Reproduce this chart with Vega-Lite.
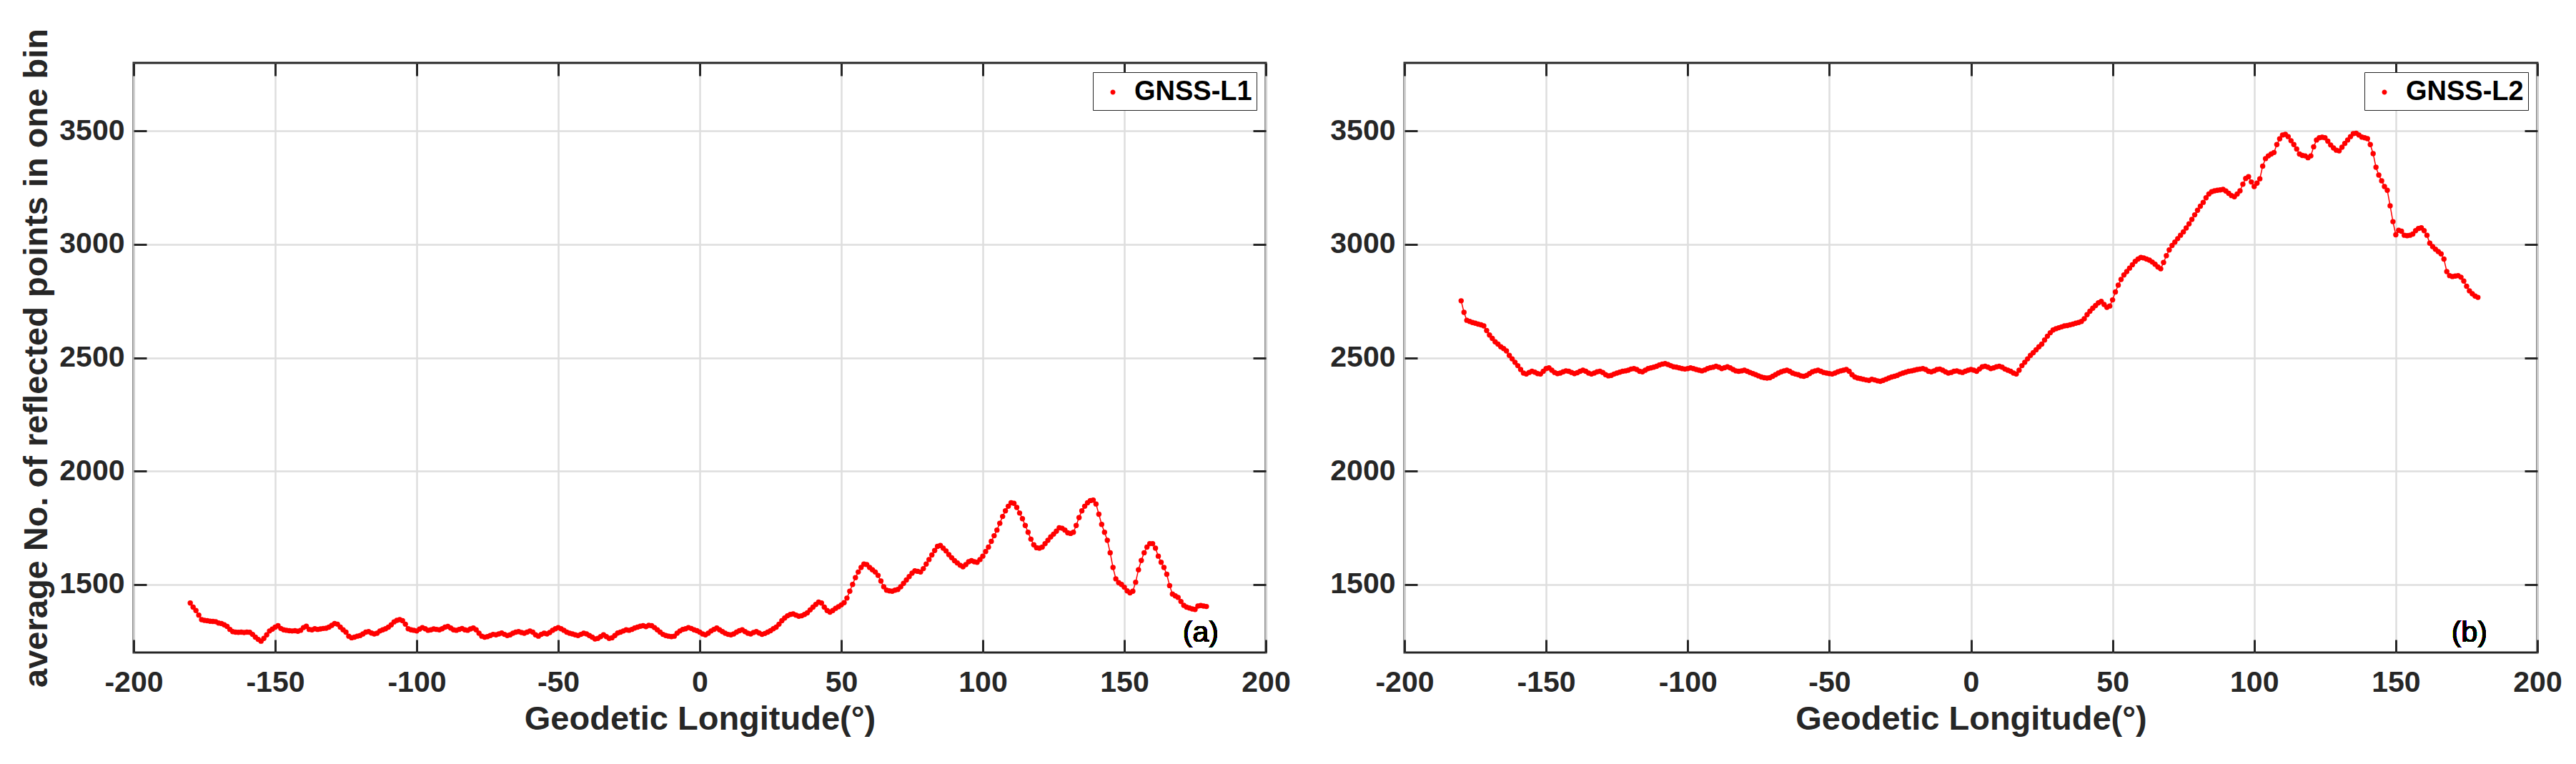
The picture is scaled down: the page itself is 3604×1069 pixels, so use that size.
{
"$schema": "https://vega.github.io/schema/vega-lite/v6.json",
"background": "white",
"padding": {"left": 26, "top": 38, "right": 0, "bottom": 0},
"bounds": "flush",
"spacing": 194,
"datasets": {
"l1": [
{"lon":-180,"n":1418},{"lon":-179,"n":1400},{"lon":-178,"n":1385},{"lon":-177,"n":1365},{"lon":-176,"n":1345},{"lon":-175,"n":1342},{"lon":-174,"n":1340},{"lon":-173,"n":1338},{"lon":-172,"n":1337},{"lon":-171,"n":1336},
{"lon":-170,"n":1330},{"lon":-169,"n":1328},{"lon":-168,"n":1322},{"lon":-167,"n":1315},{"lon":-166,"n":1302},{"lon":-165,"n":1292},{"lon":-164,"n":1290},{"lon":-163,"n":1289},{"lon":-162,"n":1290},{"lon":-161,"n":1288},
{"lon":-160,"n":1290},{"lon":-159,"n":1289},{"lon":-158,"n":1280},{"lon":-157,"n":1268},{"lon":-156,"n":1258},{"lon":-155,"n":1250},{"lon":-154,"n":1262},{"lon":-153,"n":1278},{"lon":-152,"n":1295},{"lon":-151,"n":1303},
{"lon":-150,"n":1312},{"lon":-149,"n":1318},{"lon":-148,"n":1306},{"lon":-147,"n":1300},{"lon":-146,"n":1298},{"lon":-145,"n":1296},{"lon":-144,"n":1295},{"lon":-143,"n":1296},{"lon":-142,"n":1294},{"lon":-141,"n":1298},
{"lon":-140,"n":1310},{"lon":-139,"n":1316},{"lon":-138,"n":1302},{"lon":-137,"n":1300},{"lon":-136,"n":1305},{"lon":-135,"n":1302},{"lon":-134,"n":1304},{"lon":-133,"n":1306},{"lon":-132,"n":1307},{"lon":-131,"n":1312},
{"lon":-130,"n":1320},{"lon":-129,"n":1328},{"lon":-128,"n":1325},{"lon":-127,"n":1312},{"lon":-126,"n":1300},{"lon":-125,"n":1290},{"lon":-124,"n":1272},{"lon":-123,"n":1265},{"lon":-122,"n":1268},{"lon":-121,"n":1272},
{"lon":-120,"n":1275},{"lon":-119,"n":1282},{"lon":-118,"n":1290},{"lon":-117,"n":1292},{"lon":-116,"n":1286},{"lon":-115,"n":1282},{"lon":-114,"n":1285},{"lon":-113,"n":1295},{"lon":-112,"n":1300},{"lon":-111,"n":1305},
{"lon":-110,"n":1312},{"lon":-109,"n":1322},{"lon":-108,"n":1335},{"lon":-107,"n":1342},{"lon":-106,"n":1345},{"lon":-105,"n":1340},{"lon":-104,"n":1325},{"lon":-103,"n":1305},{"lon":-102,"n":1300},{"lon":-101,"n":1298},
{"lon":-100,"n":1295},{"lon":-99,"n":1303},{"lon":-98,"n":1310},{"lon":-97,"n":1305},{"lon":-96,"n":1298},{"lon":-95,"n":1300},{"lon":-94,"n":1304},{"lon":-93,"n":1302},{"lon":-92,"n":1300},{"lon":-91,"n":1305},
{"lon":-90,"n":1312},{"lon":-89,"n":1315},{"lon":-88,"n":1308},{"lon":-87,"n":1300},{"lon":-86,"n":1298},{"lon":-85,"n":1302},{"lon":-84,"n":1306},{"lon":-83,"n":1300},{"lon":-82,"n":1298},{"lon":-81,"n":1304},
{"lon":-80,"n":1308},{"lon":-79,"n":1300},{"lon":-78,"n":1285},{"lon":-77,"n":1272},{"lon":-76,"n":1268},{"lon":-75,"n":1270},{"lon":-74,"n":1275},{"lon":-73,"n":1280},{"lon":-72,"n":1278},{"lon":-71,"n":1282},
{"lon":-70,"n":1286},{"lon":-69,"n":1280},{"lon":-68,"n":1275},{"lon":-67,"n":1278},{"lon":-66,"n":1285},{"lon":-65,"n":1290},{"lon":-64,"n":1292},{"lon":-63,"n":1288},{"lon":-62,"n":1285},{"lon":-61,"n":1290},
{"lon":-60,"n":1295},{"lon":-59,"n":1290},{"lon":-58,"n":1278},{"lon":-57,"n":1272},{"lon":-56,"n":1280},{"lon":-55,"n":1285},{"lon":-54,"n":1282},{"lon":-53,"n":1288},{"lon":-52,"n":1298},{"lon":-51,"n":1305},
{"lon":-50,"n":1310},{"lon":-49,"n":1305},{"lon":-48,"n":1298},{"lon":-47,"n":1290},{"lon":-46,"n":1285},{"lon":-45,"n":1282},{"lon":-44,"n":1278},{"lon":-43,"n":1275},{"lon":-42,"n":1280},{"lon":-41,"n":1285},
{"lon":-40,"n":1282},{"lon":-39,"n":1275},{"lon":-38,"n":1268},{"lon":-37,"n":1260},{"lon":-36,"n":1262},{"lon":-35,"n":1270},{"lon":-34,"n":1278},{"lon":-33,"n":1270},{"lon":-32,"n":1262},{"lon":-31,"n":1265},
{"lon":-30,"n":1275},{"lon":-29,"n":1286},{"lon":-28,"n":1290},{"lon":-27,"n":1295},{"lon":-26,"n":1300},{"lon":-25,"n":1298},{"lon":-24,"n":1302},{"lon":-23,"n":1308},{"lon":-22,"n":1312},{"lon":-21,"n":1316},
{"lon":-20,"n":1318},{"lon":-19,"n":1314},{"lon":-18,"n":1320},{"lon":-17,"n":1318},{"lon":-16,"n":1310},{"lon":-15,"n":1300},{"lon":-14,"n":1290},{"lon":-13,"n":1280},{"lon":-12,"n":1275},{"lon":-11,"n":1272},
{"lon":-10,"n":1270},{"lon":-9,"n":1272},{"lon":-8,"n":1285},{"lon":-7,"n":1295},{"lon":-6,"n":1302},{"lon":-5,"n":1305},{"lon":-4,"n":1310},{"lon":-3,"n":1306},{"lon":-2,"n":1300},{"lon":-1,"n":1296},
{"lon":0,"n":1290},{"lon":1,"n":1282},{"lon":2,"n":1278},{"lon":3,"n":1285},{"lon":4,"n":1295},{"lon":5,"n":1302},{"lon":6,"n":1308},{"lon":7,"n":1300},{"lon":8,"n":1292},{"lon":9,"n":1285},
{"lon":10,"n":1280},{"lon":11,"n":1278},{"lon":12,"n":1282},{"lon":13,"n":1290},{"lon":14,"n":1296},{"lon":15,"n":1300},{"lon":16,"n":1292},{"lon":17,"n":1285},{"lon":18,"n":1282},{"lon":19,"n":1288},
{"lon":20,"n":1292},{"lon":21,"n":1286},{"lon":22,"n":1280},{"lon":23,"n":1284},{"lon":24,"n":1290},{"lon":25,"n":1296},{"lon":26,"n":1305},{"lon":27,"n":1312},{"lon":28,"n":1325},{"lon":29,"n":1340},
{"lon":30,"n":1352},{"lon":31,"n":1362},{"lon":32,"n":1368},{"lon":33,"n":1370},{"lon":34,"n":1365},{"lon":35,"n":1360},{"lon":36,"n":1362},{"lon":37,"n":1368},{"lon":38,"n":1375},{"lon":39,"n":1388},
{"lon":40,"n":1400},{"lon":41,"n":1412},{"lon":42,"n":1422},{"lon":43,"n":1418},{"lon":44,"n":1400},{"lon":45,"n":1385},{"lon":46,"n":1378},{"lon":47,"n":1385},{"lon":48,"n":1395},{"lon":49,"n":1402},
{"lon":50,"n":1410},{"lon":51,"n":1420},{"lon":52,"n":1440},{"lon":53,"n":1470},{"lon":54,"n":1500},{"lon":55,"n":1530},{"lon":56,"n":1555},{"lon":57,"n":1575},{"lon":58,"n":1590},{"lon":59,"n":1588},
{"lon":60,"n":1575},{"lon":61,"n":1565},{"lon":62,"n":1555},{"lon":63,"n":1540},{"lon":64,"n":1515},{"lon":65,"n":1490},{"lon":66,"n":1475},{"lon":67,"n":1472},{"lon":68,"n":1470},{"lon":69,"n":1475},
{"lon":70,"n":1478},{"lon":71,"n":1490},{"lon":72,"n":1505},{"lon":73,"n":1520},{"lon":74,"n":1535},{"lon":75,"n":1550},{"lon":76,"n":1560},{"lon":77,"n":1558},{"lon":78,"n":1555},{"lon":79,"n":1570},
{"lon":80,"n":1590},{"lon":81,"n":1610},{"lon":82,"n":1630},{"lon":83,"n":1650},{"lon":84,"n":1668},{"lon":85,"n":1672},{"lon":86,"n":1660},{"lon":87,"n":1648},{"lon":88,"n":1632},{"lon":89,"n":1618},
{"lon":90,"n":1605},{"lon":91,"n":1595},{"lon":92,"n":1585},{"lon":93,"n":1578},{"lon":94,"n":1588},{"lon":95,"n":1600},{"lon":96,"n":1605},{"lon":97,"n":1600},{"lon":98,"n":1598},{"lon":99,"n":1610},
{"lon":100,"n":1625},{"lon":101,"n":1645},{"lon":102,"n":1665},{"lon":103,"n":1690},{"lon":104,"n":1715},{"lon":105,"n":1740},{"lon":106,"n":1770},{"lon":107,"n":1800},{"lon":108,"n":1825},{"lon":109,"n":1845},
{"lon":110,"n":1860},{"lon":111,"n":1858},{"lon":112,"n":1840},{"lon":113,"n":1815},{"lon":114,"n":1790},{"lon":115,"n":1760},{"lon":116,"n":1730},{"lon":117,"n":1700},{"lon":118,"n":1675},{"lon":119,"n":1662},
{"lon":120,"n":1660},{"lon":121,"n":1665},{"lon":122,"n":1680},{"lon":123,"n":1695},{"lon":124,"n":1710},{"lon":125,"n":1722},{"lon":126,"n":1735},{"lon":127,"n":1750},{"lon":128,"n":1748},{"lon":129,"n":1740},
{"lon":130,"n":1728},{"lon":131,"n":1725},{"lon":132,"n":1730},{"lon":133,"n":1760},{"lon":134,"n":1795},{"lon":135,"n":1825},{"lon":136,"n":1845},{"lon":137,"n":1860},{"lon":138,"n":1870},{"lon":139,"n":1872},
{"lon":140,"n":1855},{"lon":141,"n":1810},{"lon":142,"n":1765},{"lon":143,"n":1730},{"lon":144,"n":1695},{"lon":145,"n":1640},{"lon":146,"n":1575},{"lon":147,"n":1525},{"lon":148,"n":1508},{"lon":149,"n":1500},
{"lon":150,"n":1488},{"lon":151,"n":1472},{"lon":152,"n":1463},{"lon":153,"n":1470},{"lon":154,"n":1510},{"lon":155,"n":1565},{"lon":156,"n":1606},{"lon":157,"n":1640},{"lon":158,"n":1665},{"lon":159,"n":1680},
{"lon":160,"n":1680},{"lon":161,"n":1660},{"lon":162,"n":1625},{"lon":163,"n":1598},{"lon":164,"n":1575},{"lon":165,"n":1545},{"lon":166,"n":1495},{"lon":167,"n":1458},{"lon":168,"n":1450},{"lon":169,"n":1443},
{"lon":170,"n":1425},{"lon":171,"n":1408},{"lon":172,"n":1400},{"lon":173,"n":1396},{"lon":174,"n":1392},{"lon":175,"n":1390},{"lon":176,"n":1405},{"lon":177,"n":1407},{"lon":178,"n":1405},{"lon":179,"n":1403}
],
"l2": [
{"lon":-180,"n":2751},{"lon":-179,"n":2700},{"lon":-178,"n":2665},{"lon":-177,"n":2660},{"lon":-176,"n":2655},{"lon":-175,"n":2652},{"lon":-174,"n":2648},{"lon":-173,"n":2645},{"lon":-172,"n":2640},{"lon":-171,"n":2620},
{"lon":-170,"n":2600},{"lon":-169,"n":2585},{"lon":-168,"n":2570},{"lon":-167,"n":2560},{"lon":-166,"n":2548},{"lon":-165,"n":2540},{"lon":-164,"n":2530},{"lon":-163,"n":2510},{"lon":-162,"n":2495},{"lon":-161,"n":2480},
{"lon":-160,"n":2465},{"lon":-159,"n":2448},{"lon":-158,"n":2432},{"lon":-157,"n":2428},{"lon":-156,"n":2435},{"lon":-155,"n":2440},{"lon":-154,"n":2436},{"lon":-153,"n":2430},{"lon":-152,"n":2428},{"lon":-151,"n":2440},
{"lon":-150,"n":2452},{"lon":-149,"n":2455},{"lon":-148,"n":2445},{"lon":-147,"n":2435},{"lon":-146,"n":2430},{"lon":-145,"n":2432},{"lon":-144,"n":2438},{"lon":-143,"n":2442},{"lon":-142,"n":2440},{"lon":-141,"n":2435},
{"lon":-140,"n":2430},{"lon":-139,"n":2434},{"lon":-138,"n":2440},{"lon":-137,"n":2445},{"lon":-136,"n":2440},{"lon":-135,"n":2432},{"lon":-134,"n":2428},{"lon":-133,"n":2432},{"lon":-132,"n":2438},{"lon":-131,"n":2440},
{"lon":-130,"n":2435},{"lon":-129,"n":2425},{"lon":-128,"n":2420},{"lon":-127,"n":2422},{"lon":-126,"n":2428},{"lon":-125,"n":2432},{"lon":-124,"n":2436},{"lon":-123,"n":2440},{"lon":-122,"n":2442},{"lon":-121,"n":2445},
{"lon":-120,"n":2450},{"lon":-119,"n":2452},{"lon":-118,"n":2448},{"lon":-117,"n":2440},{"lon":-116,"n":2438},{"lon":-115,"n":2445},{"lon":-114,"n":2452},{"lon":-113,"n":2455},{"lon":-112,"n":2458},{"lon":-111,"n":2462},
{"lon":-110,"n":2468},{"lon":-109,"n":2472},{"lon":-108,"n":2474},{"lon":-107,"n":2470},{"lon":-106,"n":2465},{"lon":-105,"n":2460},{"lon":-104,"n":2458},{"lon":-103,"n":2455},{"lon":-102,"n":2452},{"lon":-101,"n":2450},
{"lon":-100,"n":2452},{"lon":-99,"n":2455},{"lon":-98,"n":2452},{"lon":-97,"n":2448},{"lon":-96,"n":2445},{"lon":-95,"n":2442},{"lon":-94,"n":2446},{"lon":-93,"n":2452},{"lon":-92,"n":2456},{"lon":-91,"n":2458},
{"lon":-90,"n":2462},{"lon":-89,"n":2458},{"lon":-88,"n":2452},{"lon":-87,"n":2456},{"lon":-86,"n":2460},{"lon":-85,"n":2455},{"lon":-84,"n":2448},{"lon":-83,"n":2442},{"lon":-82,"n":2440},{"lon":-81,"n":2442},
{"lon":-80,"n":2445},{"lon":-79,"n":2440},{"lon":-78,"n":2435},{"lon":-77,"n":2430},{"lon":-76,"n":2425},{"lon":-75,"n":2420},{"lon":-74,"n":2415},{"lon":-73,"n":2412},{"lon":-72,"n":2410},{"lon":-71,"n":2412},
{"lon":-70,"n":2418},{"lon":-69,"n":2425},{"lon":-68,"n":2432},{"lon":-67,"n":2438},{"lon":-66,"n":2442},{"lon":-65,"n":2445},{"lon":-64,"n":2440},{"lon":-63,"n":2432},{"lon":-62,"n":2428},{"lon":-61,"n":2425},
{"lon":-60,"n":2420},{"lon":-59,"n":2418},{"lon":-58,"n":2422},{"lon":-57,"n":2430},{"lon":-56,"n":2438},{"lon":-55,"n":2442},{"lon":-54,"n":2445},{"lon":-53,"n":2440},{"lon":-52,"n":2435},{"lon":-51,"n":2432},
{"lon":-50,"n":2430},{"lon":-49,"n":2428},{"lon":-48,"n":2432},{"lon":-47,"n":2438},{"lon":-46,"n":2442},{"lon":-45,"n":2445},{"lon":-44,"n":2448},{"lon":-43,"n":2440},{"lon":-42,"n":2425},{"lon":-41,"n":2415},
{"lon":-40,"n":2410},{"lon":-39,"n":2408},{"lon":-38,"n":2405},{"lon":-37,"n":2402},{"lon":-36,"n":2400},{"lon":-35,"n":2405},{"lon":-34,"n":2402},{"lon":-33,"n":2398},{"lon":-32,"n":2396},{"lon":-31,"n":2400},
{"lon":-30,"n":2405},{"lon":-29,"n":2410},{"lon":-28,"n":2415},{"lon":-27,"n":2418},{"lon":-26,"n":2422},{"lon":-25,"n":2428},{"lon":-24,"n":2432},{"lon":-23,"n":2436},{"lon":-22,"n":2440},{"lon":-21,"n":2442},
{"lon":-20,"n":2445},{"lon":-19,"n":2448},{"lon":-18,"n":2450},{"lon":-17,"n":2452},{"lon":-16,"n":2448},{"lon":-15,"n":2440},{"lon":-14,"n":2438},{"lon":-13,"n":2442},{"lon":-12,"n":2448},{"lon":-11,"n":2450},
{"lon":-10,"n":2445},{"lon":-9,"n":2438},{"lon":-8,"n":2432},{"lon":-7,"n":2435},{"lon":-6,"n":2440},{"lon":-5,"n":2442},{"lon":-4,"n":2438},{"lon":-3,"n":2435},{"lon":-2,"n":2440},{"lon":-1,"n":2445},
{"lon":0,"n":2448},{"lon":1,"n":2445},{"lon":2,"n":2440},{"lon":3,"n":2450},{"lon":4,"n":2460},{"lon":5,"n":2462},{"lon":6,"n":2458},{"lon":7,"n":2452},{"lon":8,"n":2455},{"lon":9,"n":2460},
{"lon":10,"n":2462},{"lon":11,"n":2458},{"lon":12,"n":2450},{"lon":13,"n":2445},{"lon":14,"n":2440},{"lon":15,"n":2432},{"lon":16,"n":2428},{"lon":17,"n":2445},{"lon":18,"n":2465},{"lon":19,"n":2480},
{"lon":20,"n":2495},{"lon":21,"n":2510},{"lon":22,"n":2522},{"lon":23,"n":2535},{"lon":24,"n":2548},{"lon":25,"n":2560},{"lon":26,"n":2578},{"lon":27,"n":2595},{"lon":28,"n":2610},{"lon":29,"n":2622},
{"lon":30,"n":2628},{"lon":31,"n":2632},{"lon":32,"n":2636},{"lon":33,"n":2640},{"lon":34,"n":2642},{"lon":35,"n":2645},{"lon":36,"n":2648},{"lon":37,"n":2652},{"lon":38,"n":2655},{"lon":39,"n":2660},
{"lon":40,"n":2672},{"lon":41,"n":2690},{"lon":42,"n":2705},{"lon":43,"n":2718},{"lon":44,"n":2730},{"lon":45,"n":2742},{"lon":46,"n":2748},{"lon":47,"n":2735},{"lon":48,"n":2722},{"lon":49,"n":2728},
{"lon":50,"n":2755},{"lon":51,"n":2790},{"lon":52,"n":2820},{"lon":53,"n":2845},{"lon":54,"n":2865},{"lon":55,"n":2880},{"lon":56,"n":2895},{"lon":57,"n":2910},{"lon":58,"n":2925},{"lon":59,"n":2935},
{"lon":60,"n":2942},{"lon":61,"n":2940},{"lon":62,"n":2935},{"lon":63,"n":2930},{"lon":64,"n":2922},{"lon":65,"n":2912},{"lon":66,"n":2900},{"lon":67,"n":2892},{"lon":68,"n":2920},{"lon":69,"n":2950},
{"lon":70,"n":2975},{"lon":71,"n":2995},{"lon":72,"n":3010},{"lon":73,"n":3025},{"lon":74,"n":3040},{"lon":75,"n":3055},{"lon":76,"n":3072},{"lon":77,"n":3090},{"lon":78,"n":3110},{"lon":79,"n":3130},
{"lon":80,"n":3150},{"lon":81,"n":3168},{"lon":82,"n":3185},{"lon":83,"n":3205},{"lon":84,"n":3222},{"lon":85,"n":3232},{"lon":86,"n":3236},{"lon":87,"n":3238},{"lon":88,"n":3240},{"lon":89,"n":3242},
{"lon":90,"n":3235},{"lon":91,"n":3225},{"lon":92,"n":3215},{"lon":93,"n":3210},{"lon":94,"n":3222},{"lon":95,"n":3236},{"lon":96,"n":3265},{"lon":97,"n":3290},{"lon":98,"n":3298},{"lon":99,"n":3275},
{"lon":100,"n":3255},{"lon":101,"n":3270},{"lon":102,"n":3289},{"lon":103,"n":3345},{"lon":104,"n":3378},{"lon":105,"n":3390},{"lon":106,"n":3398},{"lon":107,"n":3405},{"lon":108,"n":3440},{"lon":109,"n":3465},
{"lon":110,"n":3482},{"lon":111,"n":3485},{"lon":112,"n":3475},{"lon":113,"n":3457},{"lon":114,"n":3440},{"lon":115,"n":3420},{"lon":116,"n":3398},{"lon":117,"n":3392},{"lon":118,"n":3390},{"lon":119,"n":3382},
{"lon":120,"n":3390},{"lon":121,"n":3430},{"lon":122,"n":3460},{"lon":123,"n":3470},{"lon":124,"n":3472},{"lon":125,"n":3470},{"lon":126,"n":3455},{"lon":127,"n":3438},{"lon":128,"n":3425},{"lon":129,"n":3415},
{"lon":130,"n":3412},{"lon":131,"n":3428},{"lon":132,"n":3445},{"lon":133,"n":3460},{"lon":134,"n":3475},{"lon":135,"n":3488},{"lon":136,"n":3490},{"lon":137,"n":3482},{"lon":138,"n":3473},{"lon":139,"n":3470},
{"lon":140,"n":3466},{"lon":141,"n":3440},{"lon":142,"n":3400},{"lon":143,"n":3340},{"lon":144,"n":3305},{"lon":145,"n":3280},{"lon":146,"n":3255},{"lon":147,"n":3238},{"lon":148,"n":3170},{"lon":149,"n":3100},
{"lon":150,"n":3042},{"lon":151,"n":3062},{"lon":152,"n":3058},{"lon":153,"n":3040},{"lon":154,"n":3038},{"lon":155,"n":3040},{"lon":156,"n":3045},{"lon":157,"n":3060},{"lon":158,"n":3070},{"lon":159,"n":3073},
{"lon":160,"n":3060},{"lon":161,"n":3040},{"lon":162,"n":3005},{"lon":163,"n":2990},{"lon":164,"n":2978},{"lon":165,"n":2968},{"lon":166,"n":2958},{"lon":167,"n":2935},{"lon":168,"n":2880},{"lon":169,"n":2862},
{"lon":170,"n":2858},{"lon":171,"n":2860},{"lon":172,"n":2862},{"lon":173,"n":2855},{"lon":174,"n":2838},{"lon":175,"n":2815},{"lon":176,"n":2795},{"lon":177,"n":2782},{"lon":178,"n":2772},{"lon":179,"n":2766}
]
},
"hconcat": [
{
"width": 1584, "height": 825,
"data": {"name": "l1"},
"layer": [
{"mark": {"type": "line", "color": "#ff0000", "strokeWidth": 1.5},
 "encoding": {
  "x": {"field": "lon", "type": "quantitative", "scale": {"domain": [-200, 200], "nice": false, "zero": false},
        "axis": {"orient": "bottom", "values": [-200,-150,-100,-50,0,50,100,150,200], "labelExpr": "'' + datum.value", "title": "Geodetic Longitude(°)", "grid": true, "labelPadding": 40, "titlePadding": 8}},
  "y": {"field": "n", "type": "quantitative", "scale": {"domain": [1200, 3800], "nice": false, "zero": false},
        "axis": {"orient": "left", "values": [1500,2000,2500,3000,3500], "labelExpr": "'' + datum.value", "title": "average No. of reflected points in one bin", "grid": true, "labelPadding": 31, "titlePadding": 7}}
 }},
{"mark": {"type": "circle", "size": 55, "opacity": 1},
 "encoding": {
  "x": {"field": "lon", "type": "quantitative", "axis": null},
  "y": {"field": "n", "type": "quantitative", "axis": null},
  "color": {"datum": "GNSS-L1", "type": "nominal", "scale": {"range": ["#ff0000"]},
   "legend": {"orient": "top-right", "offset": 13, "title": null, "padding": 6, "strokeColor": "#262626", "fillColor": "white", "symbolType": "M-0.16,0A0.16,0.16,0,1,0,0.16,0A0.16,0.16,0,1,0,-0.16,0Z", "symbolSize": 1936, "symbolFillColor": "#ff0000", "symbolStrokeWidth": 0, "labelOffset": 8, "labelLimit": 600, "labelFontSize": 38, "labelFontWeight": "bold", "labelColor": "#000000", "encode": {"legend": {"update": {"strokeWidth": {"value": 3}}}}}}
 }},
{"mark": {"type": "point", "opacity": 0},
 "encoding": {
  "x": {"field": "lon", "type": "quantitative", "axis": {"orient": "top", "values": [-200,-150,-100,-50,0,50,100,150,200], "labels": false, "grid": false, "title": null}},
  "y": {"field": "n", "type": "quantitative", "axis": {"orient": "right", "values": [1500,2000,2500,3000,3500], "labels": false, "grid": false, "title": null}}
 }},
{"mark": {"type": "text", "fontSize": 41, "fontWeight": "normal", "color": "#000000", "align": "center", "baseline": "alphabetic"},
 "encoding": {
  "x": {"datum": 177, "type": "quantitative", "axis": null},
  "y": {"datum": 1247, "type": "quantitative", "axis": null},
  "text": {"value": "(a)"}
 }}
],
"resolve": {"axis": {"x": "independent", "y": "independent"}}
},
{
"width": 1585, "height": 825,
"data": {"name": "l2"},
"layer": [
{"mark": {"type": "line", "color": "#ff0000", "strokeWidth": 1.5},
 "encoding": {
  "x": {"field": "lon", "type": "quantitative", "scale": {"domain": [-200, 200], "nice": false, "zero": false},
        "axis": {"orient": "bottom", "values": [-200,-150,-100,-50,0,50,100,150,200], "labelExpr": "'' + datum.value", "title": "Geodetic Longitude(°)", "grid": true, "labelPadding": 40, "titlePadding": 8}},
  "y": {"field": "n", "type": "quantitative", "scale": {"domain": [1200, 3800], "nice": false, "zero": false},
        "axis": {"orient": "left", "values": [1500,2000,2500,3000,3500], "labelExpr": "'' + datum.value", "title": null, "grid": true, "labelPadding": 31}}
 }},
{"mark": {"type": "circle", "size": 55, "opacity": 1},
 "encoding": {
  "x": {"field": "lon", "type": "quantitative", "axis": null},
  "y": {"field": "n", "type": "quantitative", "axis": null},
  "color": {"datum": "GNSS-L2", "type": "nominal", "scale": {"range": ["#ff0000"]},
   "legend": {"orient": "top-right", "offset": 13, "title": null, "padding": 6, "strokeColor": "#262626", "fillColor": "white", "symbolType": "M-0.16,0A0.16,0.16,0,1,0,0.16,0A0.16,0.16,0,1,0,-0.16,0Z", "symbolSize": 1936, "symbolFillColor": "#ff0000", "symbolStrokeWidth": 0, "labelOffset": 8, "labelLimit": 600, "labelFontSize": 38, "labelFontWeight": "bold", "labelColor": "#000000", "encode": {"legend": {"update": {"strokeWidth": {"value": 3}}}}}}
 }},
{"mark": {"type": "point", "opacity": 0},
 "encoding": {
  "x": {"field": "lon", "type": "quantitative", "axis": {"orient": "top", "values": [-200,-150,-100,-50,0,50,100,150,200], "labels": false, "grid": false, "title": null}},
  "y": {"field": "n", "type": "quantitative", "axis": {"orient": "right", "values": [1500,2000,2500,3000,3500], "labels": false, "grid": false, "title": null}}
 }},
{"mark": {"type": "text", "fontSize": 41, "fontWeight": "normal", "color": "#000000", "align": "center", "baseline": "alphabetic"},
 "encoding": {
  "x": {"datum": 176, "type": "quantitative", "axis": null},
  "y": {"datum": 1247, "type": "quantitative", "axis": null},
  "text": {"value": "(b)"}
 }}
],
"resolve": {"axis": {"x": "independent", "y": "independent"}}
}
],
"resolve": {"scale": {"color": "independent"}, "legend": {"color": "independent"}},
"config": {
 "font": "Liberation Sans",
 "view": {"stroke": "#262626", "strokeWidth": 3},
 "axis": {"domain": false, "tickSize": -18, "tickWidth": 3, "tickColor": "#262626", "labelFontSize": 41, "labelFontWeight": "bold", "labelColor": "#262626", "titleFontSize": 47, "titleFontWeight": "bold", "titleColor": "#262626", "gridColor": "#dedede", "gridWidth": 2.5, "gridOpacity": 1, "labelFlush": false, "labelOverlap": false, "labelBound": false}
}
}
